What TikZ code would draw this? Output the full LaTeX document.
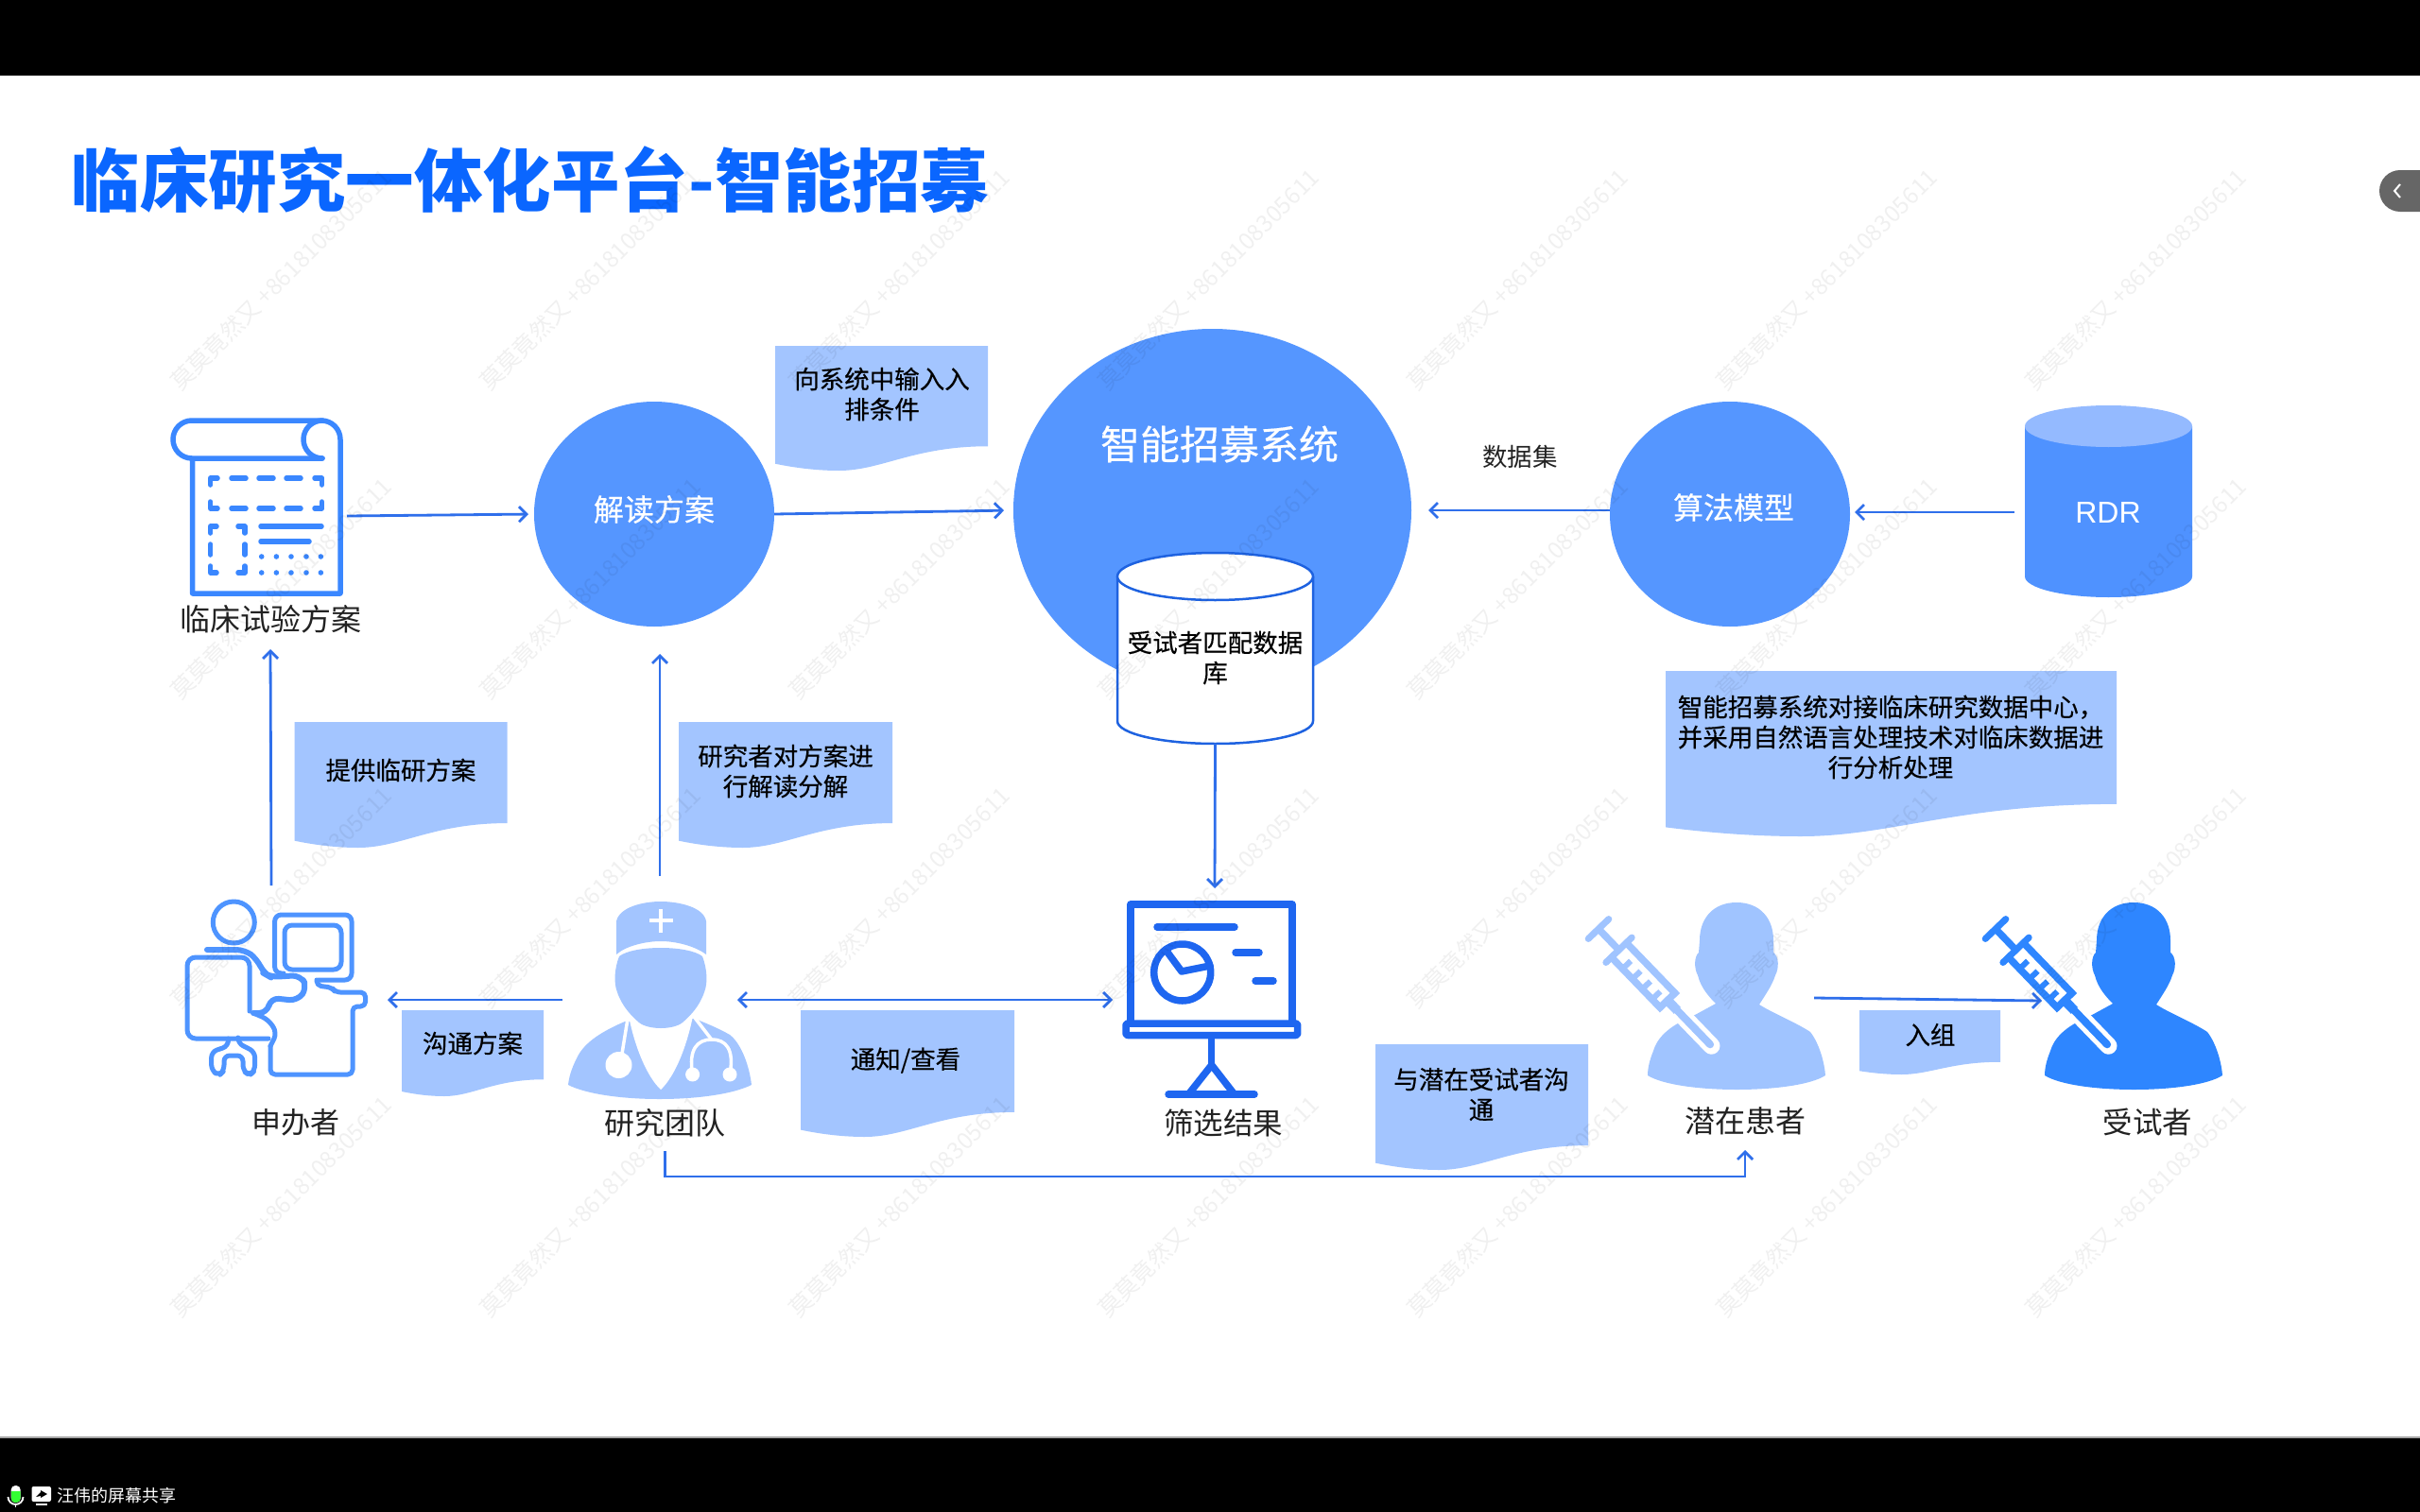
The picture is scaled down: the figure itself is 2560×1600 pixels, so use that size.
\documentclass[tikz,border=0pt]{standalone}
\usepackage{fontspec}
\setmainfont{Noto Sans CJK SC}
\newfontfamily\cjkm[FakeBold=0.35]{Noto Sans CJK SC}
\newfontfamily\latinf{Liberation Sans}
\usetikzlibrary{arrows.meta,shapes.geometric,calc}
\definecolor{blobc}{HTML}{5596FF}
\definecolor{docc}{HTML}{A3C5FF}
\definecolor{arrc}{HTML}{2F6FEB}
\definecolor{titlec}{HTML}{0A66FF}
\definecolor{cylc}{HTML}{1E62E0}
\definecolor{iconc}{HTML}{3A87FF}
\definecolor{spc}{HTML}{4E94FF}
\definecolor{chartc}{HTML}{1E66F0}
\definecolor{patc}{HTML}{A0C4FF}
\definecolor{subc}{HTML}{2E86FF}
\definecolor{rdrc}{HTML}{4F92FF}
\definecolor{rdrtop}{HTML}{94BAFF}
\definecolor{inkc}{HTML}{222222}
\tikzset{
  arr/.style={arrc,line width=2.8pt,-{Straight Barb[length=8pt,width=16pt,line width=2.8pt]}},
  arrb/.style={arrc,line width=2.8pt,{Straight Barb[length=8pt,width=16pt,line width=2.8pt]}-{Straight Barb[length=8pt,width=16pt,line width=2.8pt]}},
  blob/.style={ellipse,fill=blobc,inner sep=0pt,outer sep=0pt},
  anchorbox/.style={rectangle,inner sep=0pt,outer sep=0pt},
  lab/.style={text=inkc,inner sep=0pt,outer sep=0pt,font=\fontsize{32}{38}\selectfont},
  doctext/.style={text=black,inner sep=0pt,align=center,font=\cjkm\fontsize{26.5}{32}\selectfont},
  whitetext/.style={text=white,inner sep=0pt,font=\cjkm\fontsize{32}{38}\selectfont},
  watermark/.style={text=black,text opacity=0.06,inner sep=0pt,rotate=45,anchor=base west,font=\fontsize{24.5}{30}\selectfont},
}
% name, left, top, right, lowest, text x, text y, text
\newcommand{\wavedoc}[8]{%
  \fill[docc] (#2,#3) -- (#4,#3) -- (#4,{#3+.805*(#5-#3)})
    .. controls ({#4-.35*(#4-#2)},{#3+.805*(#5-#3)}) and ({#2+.5*(#4-#2)},#5) .. ({#2+.3*(#4-#2)},#5)
    .. controls ({#2+.2*(#4-#2)},#5) and ({#2+.1*(#4-#2)},{#3+.98*(#5-#3)}) .. (#2,{#3+.945*(#5-#3)}) -- cycle;
  \node[doctext] (#1) at (#6,#7) {#8};
}
\newcommand{\personicon}[1]{%
  \fill[#1] (1837,955) .. controls (1812,955) and (1798,972) .. (1798,995) -- (1797,1008)
    .. controls (1792,1012) and (1792,1025) .. (1796,1032)
    .. controls (1799,1045) and (1808,1055) .. (1815,1062)
    -- (1793,1074) .. controls (1775,1082) and (1755,1092) .. (1749,1112)
    .. controls (1745,1122) and (1743,1130) .. (1743,1138)
    .. controls (1775,1158) and (1900,1158) .. (1931,1138)
    .. controls (1930,1125) and (1925,1105) .. (1915,1092)
    .. controls (1900,1082) and (1875,1072) .. (1861,1063)
    .. controls (1868,1052) and (1875,1042) .. (1878,1032)
    .. controls (1882,1025) and (1882,1012) .. (1876,1008) -- (1876,995)
    .. controls (1876,972) and (1862,955) .. (1837,955) -- cycle;
  \begin{scope}[shift={(1691,983)},rotate=-46]
    \draw[white,line width=18pt,line cap=round] (118,0) -- (172,0);
    \draw[#1,line width=8pt,line cap=round] (112,0) -- (170,0);
    \draw[#1,line width=10pt] (105,0) -- (120,0);
    \fill[white] (31,-11) rectangle (105,11);
    \draw[#1,line width=7pt,line cap=round] (0,-15) -- (0,15);
    \draw[#1,line width=7.5pt] (0,0) -- (31,0);
    \draw[#1,line width=7pt,line cap=round] (31,-19) -- (31,19);
    \draw[#1,line width=7.5pt,line join=miter] (31,-11) -- (105,-11) -- (105,11) -- (31,11);
    \foreach \s in {48,63,78,93}{\draw[#1,line width=6pt] (\s,11) -- (\s,-1);}
  \end{scope}
}
\begin{document}
\begin{tikzpicture}[x=1pt,y=-1pt]
\useasboundingbox (0,0) rectangle (2560,1600);
\fill[white] (0,0) rectangle (2560,1600);
\fill[black] (0,0) rectangle (2560,80);
\fill[black] (0,1521) rectangle (2560,1600);
\fill[gray!70] (0,1520) rectangle (2560,1522);

% title
\node[text=titlec,anchor=center,inner sep=0pt,font=\bfseries\fontsize{72.5}{80}\selectfont] (title) at (561,190) {临床研究一体化平台-智能招募};

% side tab
\fill[black!60] (2560,180) -- (2539,180) arc[start angle=270,end angle=90,radius=22] -- (2560,224) -- cycle;
\draw[white,line width=2pt] (2539,195) -- (2533,202) -- (2539,209);

% big circles
\node[blob,minimum width=421pt,minimum height=384pt] (sys) at (1282.5,540) {};
\node[blob,minimum width=254pt,minimum height=238pt] (jiedu) at (692,544) {};
\node[blob,minimum width=254pt,minimum height=238pt] (suanfa) at (1830,544) {};
\node[whitetext,font=\fontsize{42}{48}\selectfont\cjkm] (syst) at (1290,470) {智能招募系统};
\node[whitetext] (jiedut) at (692,539) {解读方案};
\node[whitetext] (suanfat) at (1834,537) {算法模型};

% match database cylinder
\filldraw[fill=white,draw=cylc,line width=2.5pt] (1182,610) -- (1182,763) arc[start angle=180,end angle=0,x radius=103.5,y radius=24] -- (1389,610);
\filldraw[fill=white,draw=cylc,line width=2.5pt] (1285.5,610) ellipse[x radius=103.5,y radius=25];
\node[anchorbox,doctext,minimum width=207pt,minimum height=182pt] (matchdb) at (1285.5,696) {受试者匹配数据\\库};

% RDR cylinder
\fill[rdrc] (2142,451) -- (2142,610) arc[start angle=180,end angle=0,x radius=88.5,y radius=22] -- (2319,451) -- cycle;
\fill[rdrtop] (2230.5,451) ellipse[x radius=88.5,y radius=22];
\node[anchorbox,text=white,font=\latinf\fontsize{32}{38}\selectfont,minimum width=198pt,minimum height=100pt] (rdr) at (2230,542) {RDR};

% wave documents
\wavedoc{d1}{820}{366}{1045}{498}{933}{417}{向系统中输入入\\排条件}
\wavedoc{d2}{311.5}{764}{536.5}{897}{424}{815}{提供临研方案}
\wavedoc{d3}{718}{764}{944}{897}{831}{816}{研究者对方案进\\行解读分解}
\wavedoc{d4}{425}{1069}{575}{1160}{500}{1104}{沟通方案}
\wavedoc{d5}{847}{1069}{1073}{1203}{958}{1122}{通知/查看}
\wavedoc{d6}{1455}{1105}{1680}{1238}{1567}{1158}{与潜在受试者沟\\通}
\wavedoc{d7}{1967}{1069}{2116}{1137}{2042}{1095}{入组}
\wavedoc{d8}{1762}{710}{2239}{885}{2000}{780}{智能招募系统对接临床研究数据中心，\\并采用自然语言处理技术对临床数据进\\行分析处理}

% plan icon
\begin{scope}[iconc,line width=5.5pt,line join=round,line cap=round]
  \draw (341,485) -- (203,485) arc[start angle=90,end angle=270,radius=20] -- (340,445)
    arc[start angle=270,end angle=360,radius=20] -- (360,628) -- (203.6,628) -- (203.6,487);
  \draw (341,445) arc[start angle=270,end angle=90,radius=20];
  \draw (222.7,513) -- (222.7,506) -- (230,506);
  \draw (333,506) -- (340.6,506) -- (340.6,513);
  \draw (222.7,531) -- (222.7,538) -- (230,538);
  \draw (333,538) -- (340.6,538) -- (340.6,531);
  \foreach \yy in {506,538}{
    \draw (245,\yy) -- (260,\yy);
    \draw (274,\yy) -- (289,\yy);
    \draw (303,\yy) -- (318,\yy);
  }
  \draw (222.7,564) -- (222.7,557) -- (229,557);
  \draw (252,557) -- (259,557) -- (259,564);
  \draw (222.7,576) -- (222.7,587);
  \draw (259,576) -- (259,587);
  \draw (222.7,599) -- (222.7,606) -- (229,606);
  \draw (252,606) -- (259,606) -- (259,599);
  \draw (276,557) -- (340,557);
  \draw (276,573) -- (327,573);
  \foreach \xx in {276.7,292.4,308,324,339.4}{
    \fill (\xx,589) circle[radius=2.8];
    \fill (\xx,606) circle[radius=2.8];
  }
\end{scope}
\node[anchorbox,minimum width=192pt,minimum height=212pt] (plan) at (271,546) {};
\node[lab,minimum height=64pt] (planlabel) at (286,655) {临床试验方案};

% sponsor icon
\begin{scope}[spc,line width=5pt,line join=round,line cap=round]
  \draw (247.3,976) ellipse[x radius=22,y radius=22];
  \draw[rounded corners=7pt] (300,1030) -- (290.6,1030) -- (290.6,968) -- (372,968) -- (372,1037) -- (337,1037);
  \draw[rounded corners=8pt] (301,979) rectangle (361,1026);
  \draw[rounded corners=9pt] (284,1099) -- (198,1099) -- (198,1013) -- (264,1013) -- (264,1070);
  \draw[rounded corners=9pt,line width=6pt] (219,1005) -- (259,1005) -- (272,1015) -- (279,1030) -- (286,1034) -- (318,1032) -- (325,1045) -- (315,1059) -- (286,1056) -- (283,1072) -- (268,1072);
  \draw[rounded corners=7pt] (268,1072) -- (284,1079) -- (293,1093) -- (286,1107);
  \draw[rounded corners=5pt] (335,1037) -- (335,1043) -- (351,1045) -- (355,1050) -- (386.6,1050) -- (386.6,1065) -- (373,1065) -- (373,1137) -- (286,1137) -- (286,1107);
  \draw[rounded corners=6pt] (241.5,1099) -- (241.5,1107) -- (223.7,1113) -- (223.7,1133) -- (232,1138) -- (237,1133) -- (237,1117) -- (257,1117) -- (257,1133) -- (264,1138) -- (269.6,1133) -- (269.6,1113) -- (251.8,1104) -- (251.8,1099);
\end{scope}
\node[anchorbox,minimum width=246pt,minimum height=216pt] (sponsor) at (287,1045) {};
\node[lab,font=\fontsize{31}{38}\selectfont] (sponsorlabel) at (312.5,1188) {申办者};

% doctor icon
\fill[docc] (661,1081) .. controls (640,1090) and (618,1102) .. (610,1120) .. controls (604,1132) and (602,1140) .. (601,1148)
  .. controls (640,1168) and (755,1168) .. (795,1148) .. controls (793,1130) and (785,1105) .. (772,1095)
  .. controls (760,1088) and (745,1082) .. (735,1078) -- cycle;
\fill[white] (665,1075) .. controls (672,1110) and (685,1140) .. (699,1153) .. controls (713,1140) and (726,1110) .. (733,1075) -- cycle;
\fill[docc] (655,1012) .. controls (670,1000) and (728,1000) .. (743,1012) .. controls (748,1025) and (749,1040) .. (745,1050)
  .. controls (740,1065) and (730,1075) .. (722,1082) .. controls (712,1090) and (686,1090) .. (676,1082)
  .. controls (668,1075) and (658,1065) .. (653,1050) .. controls (649,1040) and (650,1025) .. (655,1012) -- cycle;
\fill[docc] (652,1010) -- (652,975) .. controls (655,960) and (680,954) .. (699,954) .. controls (718,954) and (745,960) .. (747,975)
  -- (747,1010) .. controls (735,1001) and (715,996) .. (699,996) .. controls (683,996) and (662,1001) .. (652,1010) -- cycle;
\fill[white] (697,962) rectangle (701,987);
\fill[white] (686.5,972) rectangle (711.5,976);
\begin{scope}[white,line width=3.5pt,line cap=round]
  \draw (664,1078) -- (658,1115);
  \fill (654.5,1127) circle[radius=14];
  \draw (735,1077) -- (752.7,1100);
  \draw (732.6,1137) .. controls (728,1110) and (738,1100) .. (752.7,1100) .. controls (768,1100) and (777,1110) .. (772,1137);
  \fill (732.6,1137) circle[radius=7.5];
  \fill (772,1137) circle[radius=7.5];
\end{scope}
\node[anchorbox,minimum width=206pt,minimum height=262pt] (doctor) at (698,1058) {};
\node[lab,minimum height=60pt] (doctorlabel) at (703.6,1188) {研究团队};

% chart icon
\begin{scope}[chartc,line width=7.5pt,line join=round,line cap=round]
  \draw (1196,1083) -- (1196,957) -- (1367,957) -- (1367,1083);
  \draw[rounded corners=2pt] (1191,1083) rectangle (1372.7,1095.5);
  \draw (1224,981) -- (1306,981);
  \draw (1250.7,1029) circle[radius=30];
  \draw (1233,1005) -- (1250,1028) -- (1280,1022);
  \draw (1307,1008) -- (1332,1008);
  \draw (1328,1038) -- (1347,1038);
  \draw (1281.7,1096) -- (1281.7,1127);
  \draw (1258,1157) -- (1281.7,1127) -- (1305,1157);
  \draw (1236,1158) -- (1327,1158);
\end{scope}
\node[anchorbox,minimum width=216pt,minimum height=236pt] (chart) at (1285,1058) {};
\node[lab,font=\fontsize{31.5}{38}\selectfont] (chartlabel) at (1294,1188) {筛选结果};

% persons
\personicon{patc}
\node[anchorbox,minimum width=146pt,minimum height=200pt] (patient) at (1846,1056) {};
\node[lab,minimum height=62pt] (patientlabel) at (1846,1186) {潜在患者};
\begin{scope}[xshift=420pt]
  \personicon{subc}
\end{scope}
\node[anchorbox,minimum width=224pt,minimum height=200pt] (subject) at (2272,1059) {};
\node[lab,font=\fontsize{31.5}{38}\selectfont] (subjectlabel) at (2272,1187) {受试者};

\node[lab,font=\fontsize{26.5}{32}\selectfont] (dataset) at (1608,483) {数据集};

% connectors
\draw[arr,shorten >=6pt] (plan.east) -- (jiedu.west);
\draw[arr,shorten >=10pt] (jiedu.east) -- (sys.west);
\draw[arr,shorten >=18pt] (suanfa.west |- sys.east) -- (sys.east);
\draw[arr,shorten >=5pt] (rdr.west) -- (rdr.west -| suanfa.east);
\draw[arr] (matchdb.south) -- (chart.north);
\draw[arr] (sponsor.north) -- (planlabel.south);
\draw[arr,shorten >=29pt] (doctor.north) -- (doctor.north |- jiedu.south);
\draw[arr] (doctor.west) -- (sponsor.east |- doctor.west);
\draw[arrb,shorten <=-21pt] (doctor.east) -- (chart.west);
\draw[arr] (patient.east) -- (subject.west);
\draw[arr] (doctorlabel.south) -- ++(0,27) -| (patientlabel.south);

% bottom bar
\fill[white,rounded corners=4.5pt] (11.7,1572) rectangle (21.7,1590);
\begin{scope}
  \clip[rounded corners=4.5pt] (11.7,1572) rectangle (21.7,1590);
  \fill[green!80!white] (11.7,1578) rectangle (21.7,1590);
\end{scope}
\draw[white,line width=1.8pt] (8.5,1584) arc[start angle=180,end angle=0,radius=8];
\draw[white,line width=1.8pt] (16.5,1592) -- (16.5,1595);
\fill[white,rounded corners=2pt] (33.5,1573) rectangle (54,1589);
\fill[white] (38,1591) rectangle (50,1593);
\fill[black] (38,1584) -- (43,1579) -- (43,1577) -- (50,1581) -- (43,1585) -- (43,1583) -- cycle;
\node[text=white,anchor=west,inner sep=0pt,font=\fontsize{18}{22}\selectfont] (sharing) at (60,1583) {汪伟的屏幕共享};

% watermark
\foreach \xx in {191,518,845,1172,1499,1826,2153}{
  \foreach \yy in {415,742,1069,1396}{
    \node[watermark] (wm\xx-\yy) at (\xx,\yy) {莫莫竟然又 +8618108305611};
  }
}
\end{tikzpicture}
\end{document}
